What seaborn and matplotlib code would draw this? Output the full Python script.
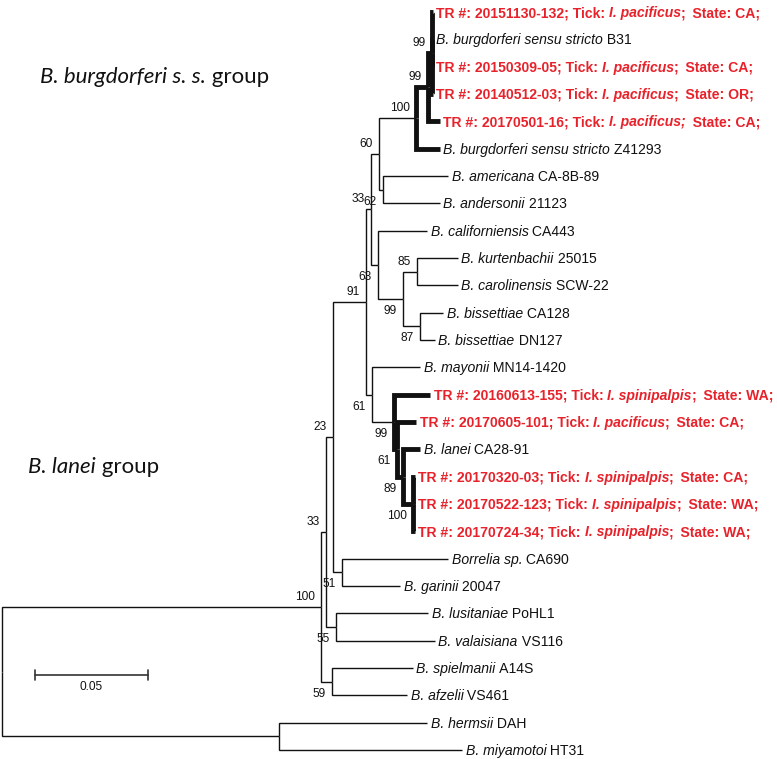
import matplotlib
matplotlib.use("Agg")
import matplotlib.pyplot as plt
import matplotlib.transforms as mtransforms
from matplotlib.font_manager import FontProperties
import numpy as np
import pandas as pd
import seaborn as sns

# ---------------- data ----------------
# tips, top to bottom
tip_ids = ["TR1", "B31", "TR2", "TR3", "TR4", "Z41293", "amer", "ander", "calif",
           "kurt", "carol", "biss128", "biss127", "mayo", "TR5", "TR6", "lanei",
           "TR7", "TR8", "TR9", "CA690", "gar", "lus", "val", "spiel", "afz",
           "herm", "miya"]
SEP = ";\u2009 "
tip_labels = [
    "TR #: 20151130-132; Tick: *I. pacificus*" + SEP + "State: CA;",
    "*B. burgdorferi sensu stricto* B31",
    "TR #: 20150309-05; Tick: *I. pacificus*" + SEP + "State: CA;",
    "TR #: 20140512-03; Tick: *I. pacificus*" + SEP + "State: OR;",
    "TR #: 20170501-16; Tick: *I. pacificus;*\u2009 State: CA;",
    "*B. burgdorferi sensu stricto* Z41293",
    "*B. americana* CA-8B-89",
    "*B. andersonii* 21123",
    "*B. californiensis* CA443",
    "*B. kurtenbachii* 25015",
    "*B. carolinensis* SCW-22",
    "*B. bissettiae* CA128",
    "*B. bissettiae* DN127",
    "*B. mayonii* MN14-1420",
    "TR #: 20160613-155; Tick: *I. spinipalpis*" + SEP + "State: WA;",
    "TR #: 20170605-101; Tick: *I. pacificus*" + SEP + "State: CA;",
    "*B. lanei* CA28-91",
    "TR #: 20170320-03; Tick: *I. spinipalpis*" + SEP + "State: CA;",
    "TR #: 20170522-123; Tick: *I. spinipalpis*" + SEP + "State: WA;",
    "TR #: 20170724-34; Tick: *I. spinipalpis*" + SEP + "State: WA;",
    "*Borrelia sp.* CA690",
    "*B. garinii* 20047",
    "*B. lusitaniae* PoHL1",
    "*B. valaisiana* VS116",
    "*B. spielmanii* A14S",
    "*B. afzelii* VS461",
    "*B. hermsii* DAH",
    "*B. miyamotoi* HT31",
]
# distance of each tip from the root (substitutions per site)
tip_depth = [0.1912, 0.1912, 0.1912, 0.1912, 0.1943, 0.1943, 0.1979, 0.1943, 0.1886,
             0.2023, 0.2023, 0.1957, 0.1921, 0.1855, 0.1899, 0.1837, 0.1855,
             0.1832, 0.1832, 0.1832, 0.1979, 0.1766, 0.1890, 0.1921, 0.1823,
             0.1797, 0.1886, 0.2041]

# internal nodes
node_ids = ["root", "RF", "LB", "N59", "N33a", "N55", "N23", "N51", "N91", "N33b",
            "N60", "N62", "N100b", "N99L", "N99U", "N63", "N99c", "N85", "N87",
            "N61", "N99l", "N61l", "N89", "N100l"]
node_children = [
    ["LB", "RF"], ["herm", "miya"], ["N33a", "N59"], ["spiel", "afz"],
    ["N23", "N55"], ["lus", "val"], ["N91", "N51"], ["CA690", "gar"],
    ["N33b", "N61"], ["N60", "N63"], ["N100b", "N62"], ["amer", "ander"],
    ["N99L", "Z41293"], ["N99U", "TR4"], ["TR1", "B31", "TR2", "TR3"],
    ["calif", "N99c"], ["N85", "N87"], ["kurt", "carol"], ["biss128", "biss127"],
    ["mayo", "N99l"], ["TR5", "N61l"], ["TR6", "N89"], ["lanei", "N100l"],
    ["TR7", "TR8", "TR9"]]
node_depth = [0.0, 0.1229, 0.1415, 0.1464, 0.1437, 0.1482, 0.1469, 0.1508, 0.1615,
              0.1637, 0.1673, 0.1690, 0.1837, 0.1890, 0.1908, 0.1668, 0.1779,
              0.1841, 0.1855, 0.1642, 0.1739, 0.1752, 0.1779, 0.1823]
node_support = ["", "", "100", "59", "33", "55", "23", "51", "91", "33", "60", "62",
                "100", "99", "99", "63", "99", "85", "87", "61", "99", "61", "89", "100"]
highlight_clades = ["N100b", "N99l"]
scale_length = 0.05
group_labels = ["*B. burgdorferi s. s.* group", "*B. lanei* group"]

# ---------------- layout ----------------
W, H = 777, 759
PX_PER_UNIT = 2254.0
ROW_PX = 27.333
X0_PX, Y0_PX = 2.0, 12.0

sns.set_theme(style="white")
plt.rcParams["font.family"] = ["Liberation Sans", "DejaVu Sans"]

fig = plt.figure(figsize=(W / 100, H / 100), dpi=100)
ax = fig.add_axes([0, 0, 1, 1])
ax.set_xlim(-X0_PX / PX_PER_UNIT, (W - X0_PX) / PX_PER_UNIT)
ax.set_ylim((H - Y0_PX) / ROW_PX, -Y0_PX / ROW_PX)
ax.axis("off")


def px2data(xp, yp):
    return (xp - X0_PX) / PX_PER_UNIT, (yp - Y0_PX) / ROW_PX


# positions
pos_x, pos_y = {}, {}
for i, (t, d) in enumerate(zip(tip_ids, tip_depth)):
    pos_x[t] = d
    pos_y[t] = float(i)
children = dict(zip(node_ids, node_children))
for n, d in zip(node_ids, node_depth):
    pos_x[n] = d


def get_y(n):
    if n in pos_y:
        return pos_y[n]
    ch = children[n]
    y = (get_y(ch[0]) + get_y(ch[-1])) / 2.0
    pos_y[n] = y
    return y


for n in node_ids:
    get_y(n)

# highlighted set
thick_nodes = set()


def mark(n):
    if n in children:
        thick_nodes.add(n)
        for c in children[n]:
            mark(c)


for c in highlight_clades:
    mark(c)

rows = []
eid = 0
for p in node_ids:
    for c in children[p]:
        w = "thick" if p in thick_nodes else "thin"
        for (x, y) in [(pos_x[p], pos_y[p]), (pos_x[p], pos_y[c]), (pos_x[c], pos_y[c])]:
            rows.append(dict(x=x, y=y, edge=eid, w=w))
        eid += 1
edges = pd.DataFrame(rows)

sns.lineplot(data=edges, x="x", y="y", units="edge", estimator=None, sort=False,
             size="w", sizes={"thin": 1.0, "thick": 3.5}, color="#111111",
             legend=False, ax=ax, solid_joinstyle="miter", solid_capstyle="butt")

renderer = fig.canvas.get_renderer()


def text_width(s, prop):
    w1, _, _ = renderer.get_text_width_height_descent("|" + s + "|", prop, ismath=False)
    w0, _, _ = renderer.get_text_width_height_descent("||", prop, ismath=False)
    return w1 - w0


def draw_rich(xd, yd, markup, size, color, bold, dx0, dy, family):
    parts = markup.split("*")
    off = dx0
    for k, part in enumerate(parts):
        if not part:
            continue
        style = "italic" if k % 2 == 1 else "normal"
        prop = FontProperties(family=family, size=size, style=style,
                              weight="bold" if bold else "normal")
        tr = mtransforms.offset_copy(ax.transData, fig=fig, x=off, y=dy, units="dots")
        ax.text(xd, yd, part, transform=tr, fontproperties=prop, color=color,
                ha="left", va="baseline")
        off += text_width(part, prop)


RED = "#E8222B"
for t, lab in zip(tip_ids, tip_labels):
    is_tr = lab.startswith("TR")
    draw_rich(pos_x[t], pos_y[t], lab, 10.1, RED if is_tr else "#111111", is_tr,
              3.5, -5, ["Liberation Sans", "DejaVu Sans"])

# bootstrap labels
parent_of = {}
for p in node_ids:
    for k, c in enumerate(children[p]):
        parent_of[c] = (p, k)
for n, s in zip(node_ids, node_support):
    if not s:
        continue
    p, k = parent_of[n]
    dy = 10 if k == 0 else -12
    tr = mtransforms.offset_copy(ax.transData, fig=fig, x=-6, y=dy, units="dots")
    ax.text(pos_x[n], pos_y[n], s, transform=tr, fontsize=8.6, color="#111111",
            ha="right", va="center")

# scale bar
sx, sy = px2data(35, 675)
th = px2data(0, 5)[1] - px2data(0, 0)[1]
ax.plot([sx, sx + scale_length], [sy, sy], color="#333333", lw=1.2)
for xx in (sx, sx + scale_length):
    ax.plot([xx, xx], [sy - th, sy + th], color="#333333", lw=1.2)
lx, ly = px2data(0, 687)
ax.text(sx + scale_length / 2, ly, f"{scale_length:.2f}", fontsize=8.6,
        color="#111111", ha="center", va="center")

# group labels
gx, gy = px2data(40, 83)
draw_rich(gx, gy, group_labels[0], 16, "#111111", False, 0, 0, ["Lato", "DejaVu Sans"])
gx, gy = px2data(28, 473)
draw_rich(gx, gy, group_labels[1], 16, "#111111", False, 0, 0, ["Lato", "DejaVu Sans"])

fig.savefig("out.png", dpi=100)
